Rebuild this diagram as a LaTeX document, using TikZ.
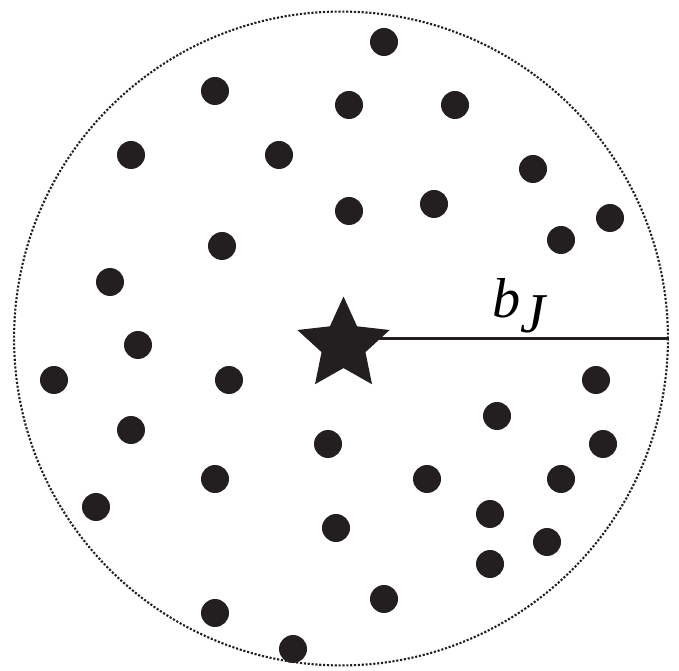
\documentclass[tikz,border=0pt]{standalone}
\usepackage{fontspec}
\setmainfont{Liberation Serif}
\usepackage{tikz}
\usetikzlibrary{shapes.geometric}
\definecolor{inkblack}{HTML}{231F20}

\begin{document}
\begin{tikzpicture}[
    x=0.02cm, y=-0.02cm,
    dot/.style={circle, fill=inkblack, minimum size=0.56cm, inner sep=0pt},
    halo/.style={circle, draw=inkblack, line width=1.2pt, dash pattern=on 1.2pt off 1pt, minimum size=13.08cm, inner sep=0pt},
    centre/.style={star, star points=5, star point ratio=2.1, fill=inkblack, minimum size=1.94cm, inner sep=0pt},
    radius/.style={draw=inkblack, line width=1.6pt},
]
\useasboundingbox (0,0) rectangle (679,671);

\coordinate (c) at (341,338.5);
\node[halo] (region) at (c) {};

% scattered members
\foreach \px/\py [count=\i] in {384/42, 215/91, 349/105, 455/105, 131/155, 279/155,
    533/169, 349/211, 434/204, 610/218, 561/240, 222/246, 110/282, 138/345,
    54/380, 229/380, 596/380, 497/416, 131/430, 328/444, 603/444, 215/479,
    427/479, 561/479, 96/507, 490/514, 336/528, 547/542, 490/564, 384/599,
    215/613, 293/649}
    \node[dot] (m\i) at (\px,\py) {};

\draw[radius] (c) -- (region.east);
\node[centre] (cen) at (343.5,345) {};
\node[anchor=base, font=\fontsize{32}{34}\selectfont, inner sep=0pt] (lbl) at (519,318)
    {\itshape b\raisebox{-0.25em}{J}};

\end{tikzpicture}
\end{document}
